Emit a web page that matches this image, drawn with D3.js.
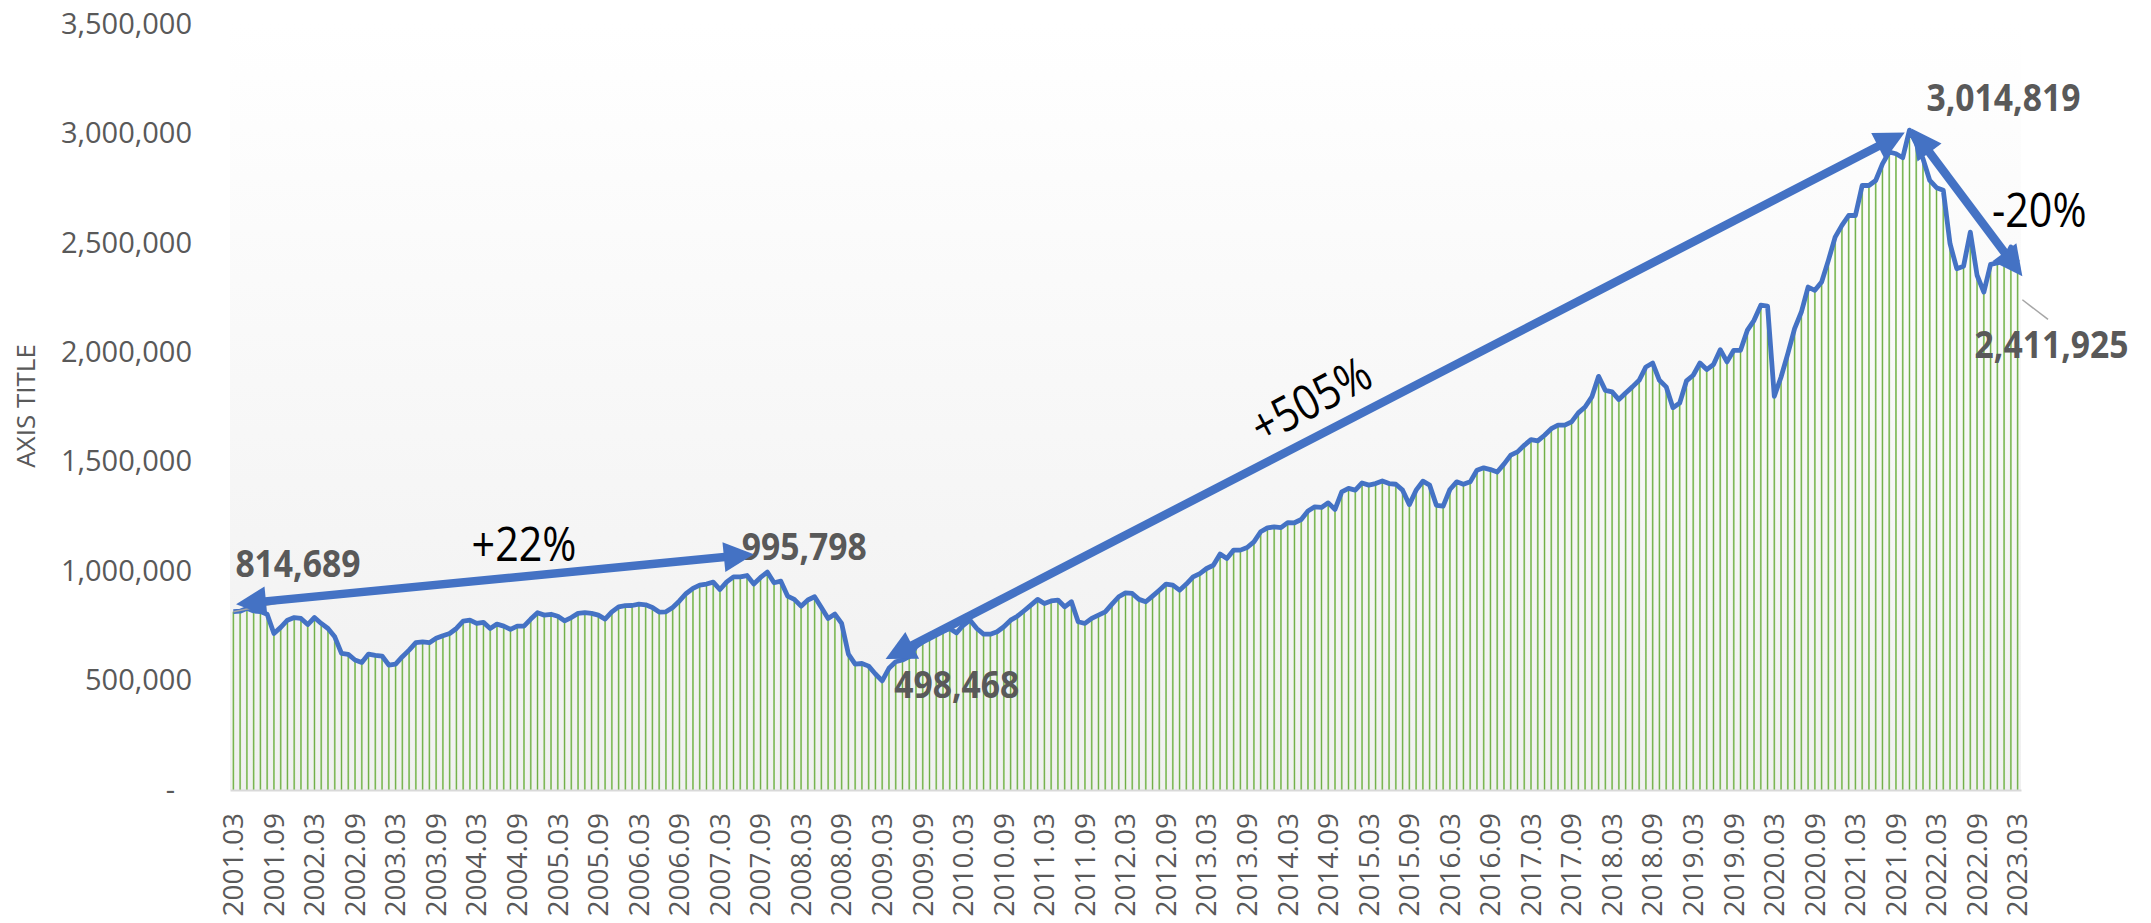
<!DOCTYPE html>
<html><head><meta charset="utf-8">
<script src="https://cdn.jsdelivr.net/npm/d3@7/dist/d3.min.js"></script>
<style>body{margin:0;background:#fff}svg{display:block}</style>
</head><body><svg id="chart" width="2151" height="923"></svg>
<script>
// ---- data ----
const startYear = 2001, startMonth = 3;
const values = [
 814689,817000,830000,818000,815000,803000,715000,743000,776000,788000,
 784000,756000,788000,761000,738000,700000,624000,620000,594000,583000,
 621000,615000,612000,571000,575000,609000,639000,673000,677000,673000,
 693000,705000,715000,738000,772000,776000,761000,766000,738000,758000,
 749000,734000,749000,749000,781000,810000,799000,803000,794000,773000,
 788000,807000,810000,807000,799000,781000,814000,837000,842000,843000,
 849000,846000,834000,813000,814000,834000,864000,898000,921000,936000,
 941000,950000,916000,951000,974000,974000,980000,941000,971000,995798,
 947000,954000,886000,871000,840000,868000,883000,834000,784000,804000,
 761000,621000,575000,578000,566000,530000,498468,556000,586000,594000,
 609000,654000,677000,708000,715000,727000,738000,718000,753000,776000,
 738000,712000,712000,723000,746000,776000,794000,819000,845000,871000,
 852000,864000,868000,837000,860000,769000,761000,784000,799000,814000,
 849000,883000,901000,898000,871000,860000,886000,913000,941000,936000,
 913000,941000,974000,989000,1012000,1027000,1078000,1058000,1096000,1096000,
 1108000,1134000,1180000,1198000,1202000,1199000,1222000,1221000,1236000,1275000,
 1294000,1291000,1312000,1282000,1362000,1378000,1370000,1403000,1393000,1400000,
 1412000,1400000,1397000,1370000,1304000,1370000,1411000,1393000,1301000,1297000,
 1373000,1408000,1397000,1408000,1461000,1472000,1464000,1453000,1489000,1530000,
 1545000,1575000,1601000,1595000,1621000,1651000,1667000,1667000,1682000,1723000,
 1750000,1796000,1890000,1826000,1819000,1784000,1814000,1842000,1872000,1933000,
 1951000,1872000,1842000,1747000,1768000,1869000,1895000,1951000,1921000,1944000,
 2012000,1956000,2009000,2009000,2100000,2146000,2215000,2211000,1799000,1887000,
 1994000,2108000,2184000,2298000,2283000,2321000,2420000,2526000,2580000,2625000,
 2625000,2762000,2762000,2785000,2861000,2915000,2907000,2889000,3014819,2953000,
 2884000,2785000,2752000,2740000,2496000,2382000,2393000,2549000,2352000,2275000,
 2402000,2408000,2420000,2481000,2411925
];
const categories = values.map((_, i) => {
  const m = startMonth - 1 + i;
  return (startYear + Math.floor(m / 12)) + "." + String(m % 12 + 1).padStart(2, "0");
});
const xTickLabels = [
 "2001.03","2001.09","2002.03","2002.09","2003.03","2003.09","2004.03","2004.09",
 "2005.03","2005.09","2006.03","2006.09","2007.03","2007.09","2008.03","2008.09",
 "2009.03","2009.09","2010.03","2010.09","2011.03","2011.09","2012.03","2012.09",
 "2013.03","2013.09","2014.03","2014.09","2015.03","2015.09","2016.03","2016.09",
 "2017.03","2017.09","2018.03","2018.09","2019.03","2019.09","2020.03","2020.09",
 "2021.03","2021.09","2022.03","2022.09","2023.03"
];
const yTicks = [0,500000,1000000,1500000,2000000,2500000,3000000,3500000];
const axisTitle = "AXIS TITLE";
// value callouts: [category, value]
const callouts = [["2001.03",814689],["2007.10",995798],["2009.03",498468],["2021.11",3014819],["2023.03",2411925]];
// change arrows in data space: [from index, from value, to index, to value]
const arrows = [[0.4,849000,77,1077000],[96.5,598000,247.3,3004000],[248.3,3023000,264.7,2347000]];
const changeLabels = [["+22%",43,1132000,0],["+505%",159.3,1790000,-28],["-20%",267.2,2657000,0]];

// ---- layout ----
const svg = d3.select("#chart");
const L = 230, R = 2021, T = 24, B = 790;
const x = d3.scaleBand().domain(categories).range([L, R]).paddingInner(0.72).paddingOuter(0.36);
const y = d3.scaleLinear().domain([0, 3500000]).range([B, T]);
const xi = i => x(categories[0]) + x.bandwidth() / 2 + i * x.step();
const FONT = "'Open Sans', 'DejaVu Sans', sans-serif";
const SX = 0.86;   // horizontal squeeze for change labels
const SXB = 0.91;  // horizontal squeeze for value labels

const defs = svg.append("defs");
const grad = defs.append("linearGradient").attr("id","bg").attr("x1",0).attr("y1",0).attr("x2",0).attr("y2",1);
grad.append("stop").attr("offset","0%").attr("stop-color","#ffffff");
grad.append("stop").attr("offset","100%").attr("stop-color","#f0f0f0");
svg.append("rect").attr("x",L).attr("y",T).attr("width",R-L).attr("height",B-T).attr("fill","url(#bg)");

// bars
svg.append("g").selectAll("rect").data(values).join("rect")
  .attr("x",(d,i)=>x(categories[i])).attr("width",x.bandwidth())
  .attr("y",d=>y(d)).attr("height",d=>B-y(d))
  .attr("fill","#b0d897");
svg.append("g").selectAll("line").data(values).join("line")
  .attr("x1",(d,i)=>x(categories[i])+x.bandwidth()/2).attr("x2",(d,i)=>x(categories[i])+x.bandwidth()/2)
  .attr("y1",d=>y(d)).attr("y2",B)
  .attr("stroke","#70ad47").attr("stroke-width",1);

// x axis
const gx = svg.append("g").attr("transform",`translate(0,${B})`)
  .call(d3.axisBottom(x).tickValues(xTickLabels).tickSize(0).tickSizeOuter(0));
gx.select(".domain").attr("stroke","#d9d9d9").attr("stroke-width",2);
gx.selectAll("text").attr("transform","rotate(-90)").attr("text-anchor","end")
  .attr("x",-23).attr("y",0).attr("dy","0.35em")
  .attr("font-family",FONT).attr("font-size",28).attr("fill","#595959");

// y axis
const gy = svg.append("g").attr("transform",`translate(${L},0)`)
  .call(d3.axisLeft(y).tickValues(yTicks).tickSize(0).tickPadding(38)
    .tickFormat(d => d === 0 ? "-" : d3.format(",")(d)));
gy.select(".domain").remove();
gy.selectAll("text").attr("font-family",FONT).attr("font-size",29).attr("fill","#595959");
gy.selectAll(".tick").filter(d=>d===0).select("text").attr("dx",-17);

svg.append("text").attr("transform","translate(25,406) rotate(-90)")
  .attr("text-anchor","middle").attr("dominant-baseline","central")
  .attr("font-family",FONT).attr("font-size",26).attr("fill","#595959").text(axisTitle);

// line
svg.append("path").datum(values)
  .attr("d", d3.line().x((d,i)=>xi(i)).y(d=>y(d)))
  .attr("fill","none").attr("stroke","#4472C4").attr("stroke-width",4.8)
  .attr("stroke-linejoin","round");

// leader lines
const leaders = [[0,814689,8.5,866000],[264.7,2240000,268.5,2150000]];
svg.append("g").selectAll("line").data(leaders).join("line")
  .attr("x1",d=>xi(d[0])).attr("y1",d=>y(d[1])).attr("x2",d=>xi(d[2])).attr("y2",d=>y(d[3]))
  .attr("stroke","#a6a6a6").attr("stroke-width",1.5);

// callout value labels (offsets in px)
const calloutOffsets = [[2,-49,"start"],[37,-27,"middle"],[12,2,"start"],[17,-34,"start"],[-43,81,"start"]];
svg.append("g").selectAll("text").data(callouts).join("text")
  .attr("transform",(d,i)=>`translate(${x(d[0])+x.bandwidth()/2+calloutOffsets[i][0]},${y(d[1])+calloutOffsets[i][1]}) scale(${SXB},1)`)
  .attr("text-anchor",(d,i)=>calloutOffsets[i][2]).attr("dominant-baseline","central")
  .attr("font-family",FONT).attr("font-weight","bold").attr("font-size",37).attr("fill","#595959")
  .text(d=>d3.format(",")(d[1]));

// arrows
const ga = svg.append("g");
const HL = 30, HW = 15;
arrows.forEach(a => {
  const p1 = [xi(a[0]), y(a[1])], p2 = [xi(a[2]), y(a[3])];
  const dx = p2[0]-p1[0], dy = p2[1]-p1[1], len = Math.hypot(dx,dy);
  const ux = dx/len, uy = dy/len, nx = -uy, ny = ux;
  ga.append("line").attr("x1",p1[0]+ux*HL*0.8).attr("y1",p1[1]+uy*HL*0.8)
    .attr("x2",p2[0]-ux*HL*0.8).attr("y2",p2[1]-uy*HL*0.8)
    .attr("stroke","#4472C4").attr("stroke-width",8.5);
  const head = (tip, sx, sy) => {
    const bx = tip[0]+sx*HL, by = tip[1]+sy*HL;
    return `M${tip[0]},${tip[1]}L${bx+nx*HW},${by+ny*HW}L${bx-nx*HW},${by-ny*HW}Z`;
  };
  ga.append("path").attr("d",head(p1,ux,uy)).attr("fill","#4472C4");
  ga.append("path").attr("d",head(p2,-ux,-uy)).attr("fill","#4472C4");
});

// change labels
svg.append("g").selectAll("text").data(changeLabels).join("text")
  .attr("transform",d=>`translate(${xi(d[1])},${y(d[2])}) rotate(${d[3]}) scale(${SX},1)`)
  .attr("text-anchor","middle").attr("dominant-baseline","central")
  .attr("font-family",FONT).attr("font-size",48).attr("fill","#000")
  .text(d=>d[0]);
</script></body></html>
